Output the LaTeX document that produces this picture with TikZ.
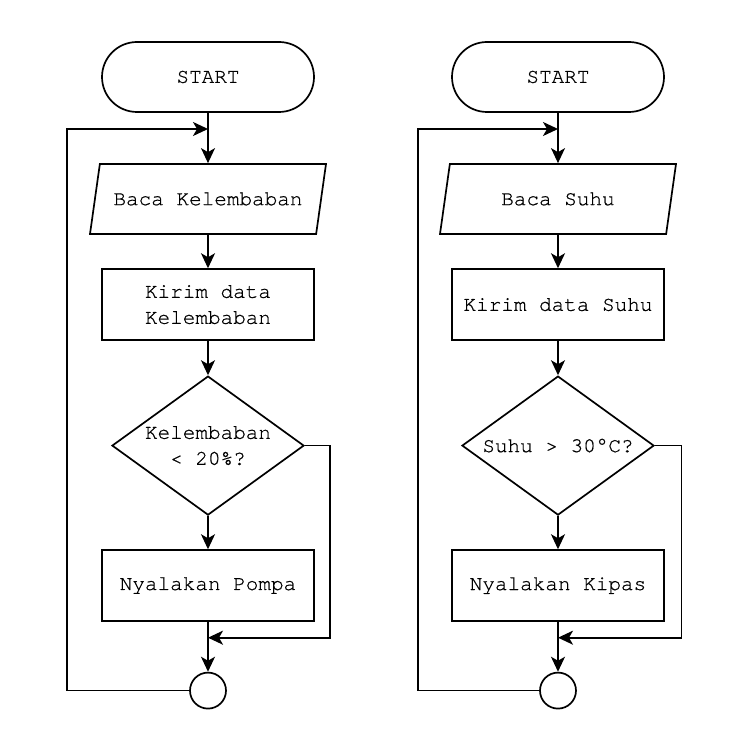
\documentclass[tikz,border=0pt]{standalone}
\usepackage{fontspec}
\setmonofont{texgyrecursor-regular.otf}[FakeBold=0.6]
\usetikzlibrary{shapes.geometric,arrows.meta}

\begin{document}
\begin{tikzpicture}
            [x=1pt, y=1pt, font=\ttfamily\fontsize{21}{26}\selectfont,
            line width=1.7pt, grow=down,
            terminal/.style={draw, rectangle, rounded corners=35pt, minimum width=212pt, minimum height=70pt},
            io/.style={draw, trapezium, trapezium left angle=63.4, trapezium right angle=116.6,
                trapezium stretches body, inner xsep=-12pt, minimum width=236pt, minimum height=70pt},
            process/.style={draw, rectangle, minimum width=212pt, minimum height=71pt, align=center},
            decision/.style={draw, diamond, aspect=1.4, minimum width=192pt, minimum height=139pt, inner sep=0pt, align=center},
            joint/.style={draw, circle, minimum size=36pt, inner sep=0pt},
            flow/.style={-{Stealth[length=15pt, width=14pt, inset=4pt]}},
            edge from parent/.style={draw, flow}]
            \useasboundingbox (0,0) rectangle (750,750);
            % kelembaban (left)
            \node [terminal] (startL) at (208,673) {START}
            child [level distance=122pt] {
                node [io] (readL) {Baca Kelembaban}
                child [level distance=105.6pt] {
                    node [process] (sendL) {Kirim data\\Kelembaban}
                    child [level distance=141pt] {
                        node [decision] (askL) {Kelembaban\\< 20\%?}
                        child [level distance=140pt] {
                            node [process] (pumpL) {Nyalakan Pompa}
                            child [level distance=105pt] {
                                node [joint] (endL) {}
                            }
                        }
                    }
                }
            };
            \coordinate (inL) at (208,621);
            \coordinate (backL) at (67,621);
            \coordinate (sideL) at (330,112.3);
            \coordinate (mergeL) at (208,112.3);
            \draw [flow] (endL.west) -| (backL) -- (inL);
            \draw [flow] (askL.east) -| (sideL) -- (mergeL);
            % suhu (right)
            \node [terminal] (startR) at (558,673) {START}
            child [level distance=122pt] {
                node [io] (readR) {Baca Suhu}
                child [level distance=105.6pt] {
                    node [process] (sendR) {Kirim data Suhu}
                    child [level distance=141pt] {
                        node [decision] (askR) {Suhu > 30°C?}
                        child [level distance=140pt] {
                            node [process] (fanR) {Nyalakan Kipas}
                            child [level distance=105pt] {
                                node [joint] (endR) {}
                            }
                        }
                    }
                }
            };
            \coordinate (inR) at (558,621);
            \coordinate (backR) at (418,621);
            \coordinate (sideR) at (681.5,112.3);
            \coordinate (mergeR) at (558,112.3);
            \draw [flow] (endR.west) -| (backR) -- (inR);
            \draw [flow] (askR.east) -| (sideR) -- (mergeR);
\end{tikzpicture}
\end{document}
